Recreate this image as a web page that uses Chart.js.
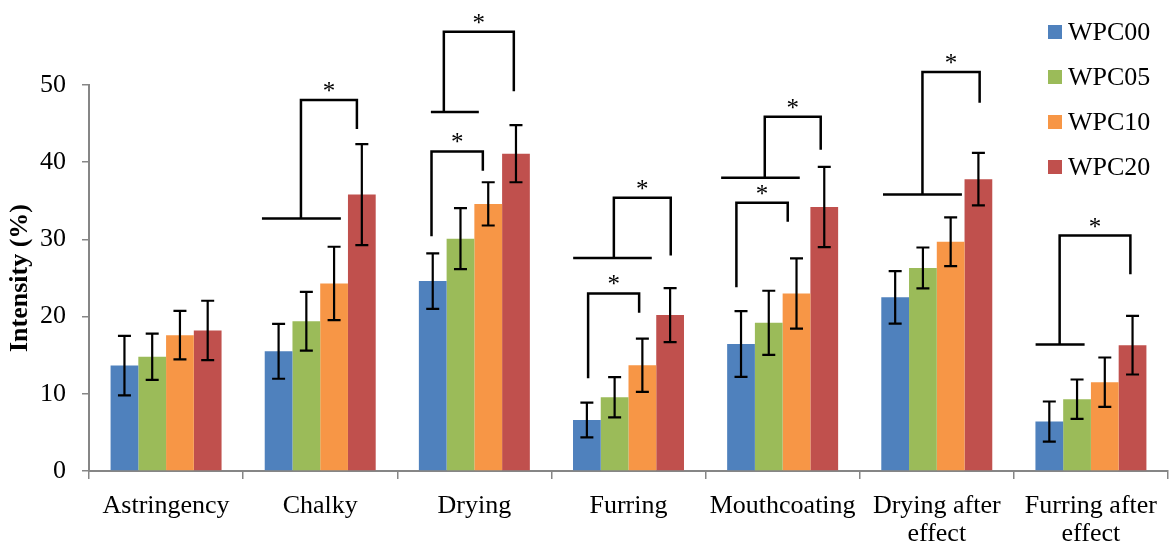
<!DOCTYPE html>
<html>
<head>
<meta charset="utf-8">
<script src="https://cdn.jsdelivr.net/npm/chart.js@4/dist/chart.umd.min.js"></script>
<style>
    html, body { margin: 0; padding: 0; background: #ffffff; }
    #wrap { width: 1174px; height: 544px; }
</style>
</head>
<body>
<div id="wrap"><canvas id="barChart" width="1174" height="544"></canvas></div>
<script>
// Categories and series
var categories = ['Astringency', 'Chalky', 'Drying', 'Furring', 'Mouthcoating', ['Drying after', 'effect'], ['Furring after', 'effect']];
var seriesNames = ['WPC00', 'WPC05', 'WPC10', 'WPC20'];
var seriesColors = ['#4F81BD', '#9BBB59', '#F79646', '#C0504D'];

var wpc00 = [13.65, 15.5, 24.6, 6.6, 16.45, 22.5, 6.4];
var wpc05 = [14.8, 19.4, 30.1, 9.55, 19.2, 26.3, 9.3];
var wpc10 = [17.6, 24.3, 34.6, 13.7, 23.0, 29.7, 11.5];
var wpc20 = [18.2, 35.8, 41.1, 20.2, 34.2, 37.8, 16.3];

// Standard deviations (error bars)
var sd00 = [3.85, 3.55, 3.6, 2.25, 4.25, 3.4, 2.6];
var sd05 = [3.0, 3.8, 3.95, 2.6, 4.15, 2.65, 2.55];
var sd10 = [3.15, 4.75, 2.8, 3.45, 4.55, 3.15, 3.2];
var sd20 = [3.85, 6.55, 3.7, 3.5, 5.2, 3.4, 3.8];

var yTicks = [0, 10, 20, 30, 40, 50];

// Significance brackets (x as offset from category centre in category widths, y in %)
var brackets = [
    { cat: 1, base: [-0.378, 0.134], baseY: 32.7, left: -0.125, right: 0.238, top: 48.05, leftBottom: 32.7, rightBottom: 44.3 },
    { cat: 2, base: [-0.282, 0.029], baseY: 46.5, left: -0.198, right: 0.256, top: 56.9, leftBottom: 46.5, rightBottom: 49.2 },
    { cat: 2, base: null, baseY: null, left: -0.278, right: 0.055, top: 41.4, leftBottom: 30.4, rightBottom: 38.9 },
    { cat: 3, base: [-0.359, 0.151], baseY: 27.6, left: -0.095, right: 0.274, top: 35.4, leftBottom: 27.6, rightBottom: 27.9 },
    { cat: 3, base: null, baseY: null, left: -0.262, right: 0.069, top: 23.0, leftBottom: 12.0, rightBottom: 20.5 },
    { cat: 4, base: [-0.399, 0.111], baseY: 38.0, left: -0.116, right: 0.247, top: 45.9, leftBottom: 38.0, rightBottom: 41.6 },
    { cat: 4, base: null, baseY: null, left: -0.300, right: 0.033, top: 34.75, leftBottom: 23.8, rightBottom: 32.3 },
    { cat: 5, base: [-0.349, 0.163], baseY: 35.8, left: -0.093, right: 0.278, top: 51.7, leftBottom: 35.8, rightBottom: 47.7 },
    { cat: 6, base: [-0.359, -0.041], baseY: 16.4, left: -0.203, right: 0.256, top: 30.5, leftBottom: 16.4, rightBottom: 25.5 }
];

var serifFont = "'Times New Roman', 'Liberation Serif', serif";
var axisGray = '#868686';

var allValues = [wpc00, wpc05, wpc10, wpc20];
var allSd = [sd00, sd05, sd10, sd20];

// Error bars, brackets and legend drawn on top of the bars
var overlayPlugin = {
    id: 'overlay',
    afterDatasetsDraw: function (chart) {
        var ctx = chart.ctx;
        var yScale = chart.scales.y;
        var xScale = chart.scales.x;
        ctx.save();
        ctx.strokeStyle = '#000000';

        // error bars
        ctx.lineWidth = 2.2;
        allValues.forEach(function (vals, d) {
            var meta = chart.getDatasetMeta(d);
            vals.forEach(function (v, i) {
                var bx = meta.data[i].x;
                var yTop = yScale.getPixelForValue(v + allSd[d][i]);
                var yBot = yScale.getPixelForValue(v - allSd[d][i]);
                ctx.beginPath();
                ctx.moveTo(bx, yTop); ctx.lineTo(bx, yBot);
                ctx.moveTo(bx - 6.5, yTop); ctx.lineTo(bx + 6.5, yTop);
                ctx.moveTo(bx - 6.5, yBot); ctx.lineTo(bx + 6.5, yBot);
                ctx.stroke();
            });
        });

        // brackets with asterisks
        var unit = xScale.getPixelForValue(1) - xScale.getPixelForValue(0);
        ctx.lineWidth = 2.5;
        ctx.fillStyle = '#000000';
        ctx.font = '25px ' + serifFont;
        ctx.textAlign = 'center';
        ctx.textBaseline = 'alphabetic';
        brackets.forEach(function (b) {
            var cx = xScale.getPixelForValue(b.cat);
            var lx = cx + b.left * unit;
            var rx = cx + b.right * unit;
            var ty = yScale.getPixelForValue(b.top);
            ctx.beginPath();
            if (b.base) {
                var by = yScale.getPixelForValue(b.baseY);
                ctx.moveTo(cx + b.base[0] * unit, by);
                ctx.lineTo(cx + b.base[1] * unit, by);
            }
            ctx.moveTo(lx, yScale.getPixelForValue(b.leftBottom));
            ctx.lineTo(lx, ty);
            ctx.lineTo(rx, ty);
            ctx.lineTo(rx, yScale.getPixelForValue(b.rightBottom));
            ctx.stroke();
            ctx.fillText('*', (lx + rx) / 2, ty - 1);
        });

        // legend
        ctx.font = '26px ' + serifFont;
        ctx.textAlign = 'left';
        ctx.textBaseline = 'middle';
        seriesNames.forEach(function (name, i) {
            var rowY = 32 + i * 45;
            ctx.fillStyle = seriesColors[i];
            ctx.fillRect(1048, rowY - 7, 14, 14);
            ctx.fillStyle = '#000000';
            ctx.fillText(name, 1068, rowY + 1);
        });
        ctx.restore();
    }
};

document.addEventListener("DOMContentLoaded", function () {
    var ctxBar = document.getElementById('barChart').getContext('2d');

    var datasets = allValues.map(function (vals, d) {
        return {
            label: seriesNames[d],
            data: vals,
            backgroundColor: seriesColors[d],
            borderWidth: 0
        };
    });

    var barChart = new Chart(ctxBar, {
        type: 'bar',
        data: {
            labels: categories,
            datasets: datasets
        },
        options: {
            responsive: false,
            maintainAspectRatio: false,
            animation: false,
            layout: {
                padding: { top: 85, right: 6, left: 0, bottom: 0 }
            },
            datasets: {
                bar: { categoryPercentage: 0.72, barPercentage: 1.0 }
            },
            plugins: {
                legend: { display: false },
                tooltip: { enabled: false }
            },
            scales: {
                x: {
                    grid: {
                        drawOnChartArea: false,
                        drawTicks: true,
                        tickLength: 8,
                        tickColor: axisGray,
                        lineWidth: 1.5,
                        offset: true
                    },
                    border: { color: axisGray, width: 2 },
                    ticks: {
                        color: '#000000',
                        padding: 13,
                        maxRotation: 0,
                        autoSkip: false,
                        font: { family: serifFont, size: 26, lineHeight: 1.08 }
                    },
                    afterFit: function (scale) { scale.height = 73; }
                },
                y: {
                    min: 0,
                    max: 50,
                    afterBuildTicks: function (scale) {
                        scale.ticks = yTicks.map(function (v) { return { value: v }; });
                    },
                    grid: {
                        drawOnChartArea: false,
                        drawTicks: true,
                        tickLength: 7,
                        tickColor: axisGray,
                        lineWidth: 1.5
                    },
                    border: { color: axisGray, width: 2 },
                    ticks: {
                        color: '#000000',
                        padding: 16,
                        font: { family: serifFont, size: 26 }
                    },
                    title: {
                        display: true,
                        text: 'Intensity (%)',
                        color: '#000000',
                        padding: { top: 5, bottom: 0 },
                        font: { family: serifFont, size: 26, weight: 'bold' }
                    },
                    afterFit: function (scale) { scale.width = 89; }
                }
            }
        },
        plugins: [overlayPlugin]
    });
});
</script>
</body>
</html>
